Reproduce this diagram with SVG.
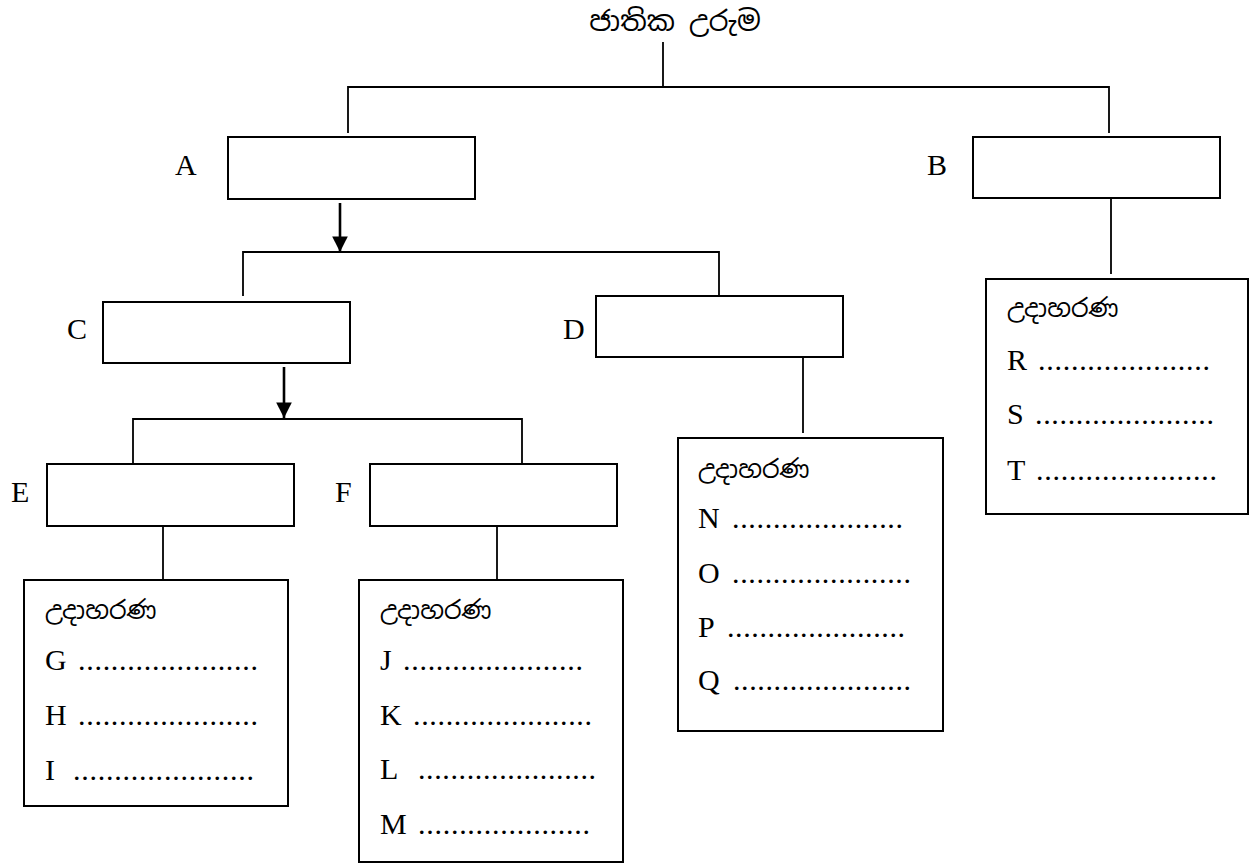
<svg xmlns="http://www.w3.org/2000/svg" width="1252" height="865" viewBox="0 0 1252 865">
<style>
.box{fill:#fff;stroke:#000;stroke-width:2}
.ln{fill:none;stroke:#000;stroke-width:1.8}
.arr{fill:none;stroke:#000;stroke-width:2.6}
.lbl{font-family:"Liberation Serif","Times New Roman",serif;font-size:30px;fill:#000}
.t{font-family:"Liberation Serif","Times New Roman",serif;font-size:30px;fill:#000}
.si{font-family:"Noto Sans Sinhala","Iskoola Pota","Noto Sans","DejaVu Sans",sans-serif;font-size:25px;fill:#000}
.title{font-family:"Noto Sans Sinhala","Iskoola Pota","Noto Sans","DejaVu Sans",sans-serif;font-size:28px;fill:#000}
</style>
<defs>
<marker id="ah" viewBox="0 0 10 10" refX="10" refY="5" markerWidth="6" markerHeight="6" markerUnits="strokeWidth" orient="auto">
<path d="M0,0 L10,5 L0,10 z" fill="#000"/>
</marker>
</defs>
<rect width="1252" height="865" fill="#fff"/>
<g id="connectors">
<line class="ln" x1="663" y1="42" x2="663" y2="87"/>
<polyline class="ln" points="348,133 348,87 1109,87 1109,133"/>
<line class="arr" x1="340" y1="203" x2="340" y2="252" marker-end="url(#ah)"/>
<polyline class="ln" points="243,296 243,252 719,252 719,296"/>
<line class="ln" x1="803" y1="357" x2="803" y2="433"/>
<line class="ln" x1="1111" y1="198" x2="1111" y2="274"/>
<line class="arr" x1="284" y1="367" x2="284" y2="418" marker-end="url(#ah)"/>
<polyline class="ln" points="133,463 133,419 522,419 522,463"/>
<line class="ln" x1="163" y1="526" x2="163" y2="580"/>
<line class="ln" x1="497" y1="526" x2="497" y2="580"/>
</g>
<g id="title"><text class="title" x="675" y="31" text-anchor="middle">ජාතික උරුම</text></g>
<g id="nodeA"><rect class="box" x="228" y="137" width="247" height="62"/><text class="lbl" x="175" y="175">A</text></g>
<g id="nodeB"><rect class="box" x="973" y="137" width="247" height="61"/><text class="lbl" x="927" y="175">B</text></g>
<g id="nodeC"><rect class="box" x="103" y="302" width="247" height="61"/><text class="lbl" x="67" y="339">C</text></g>
<g id="nodeD"><rect class="box" x="596" y="296" width="247" height="61"/><text class="lbl" x="563" y="339">D</text></g>
<g id="nodeE"><rect class="box" x="47" y="464" width="247" height="62"/><text class="lbl" x="11" y="502">E</text></g>
<g id="nodeF"><rect class="box" x="370" y="464" width="247" height="62"/><text class="lbl" x="335" y="502">F</text></g>
<g id="exE">
<rect class="box" x="24" y="580" width="264" height="226"/>
<text class="si" x="45" y="619">උදාහරණ</text>
<text class="t" x="45" y="670">G</text><text class="t" x="78" y="670" textLength="180" lengthAdjust="spacing">......................</text>
<text class="t" x="45" y="725">H</text><text class="t" x="78" y="725" textLength="180" lengthAdjust="spacing">......................</text>
<text class="t" x="45" y="780">I</text><text class="t" x="73" y="780" textLength="181" lengthAdjust="spacing">......................</text>
</g>
<g id="exF">
<rect class="box" x="359" y="580" width="264" height="282"/>
<text class="si" x="380" y="619">උදාහරණ</text>
<text class="t" x="380" y="670">J</text><text class="t" x="403" y="670" textLength="180" lengthAdjust="spacing">......................</text>
<text class="t" x="380" y="725">K</text><text class="t" x="413" y="725" textLength="179" lengthAdjust="spacing">......................</text>
<text class="t" x="380" y="779">L</text><text class="t" x="418" y="779" textLength="178" lengthAdjust="spacing">......................</text>
<text class="t" x="380" y="834">M</text><text class="t" x="418" y="834" textLength="172" lengthAdjust="spacing">.....................</text>
</g>
<g id="exD">
<rect class="box" x="678" y="438" width="265" height="293"/>
<text class="si" x="698" y="478">උදාහරණ</text>
<text class="t" x="698" y="528">N</text><text class="t" x="732" y="528" textLength="171" lengthAdjust="spacing">.....................</text>
<text class="t" x="698" y="583">O</text><text class="t" x="732" y="583" textLength="179" lengthAdjust="spacing">......................</text>
<text class="t" x="698" y="637">P</text><text class="t" x="727" y="637" textLength="178" lengthAdjust="spacing">......................</text>
<text class="t" x="698" y="690">Q</text><text class="t" x="733" y="690" textLength="178" lengthAdjust="spacing">......................</text>
</g>
<g id="exB">
<rect class="box" x="986" y="279" width="262" height="235"/>
<text class="si" x="1007" y="317">උදාහරණ</text>
<text class="t" x="1007" y="370">R</text><text class="t" x="1038" y="370" textLength="172" lengthAdjust="spacing">.....................</text>
<text class="t" x="1007" y="424">S</text><text class="t" x="1035" y="424" textLength="179" lengthAdjust="spacing">......................</text>
<text class="t" x="1007" y="480">T</text><text class="t" x="1036" y="480" textLength="181" lengthAdjust="spacing">......................</text>
</g>
</svg>
